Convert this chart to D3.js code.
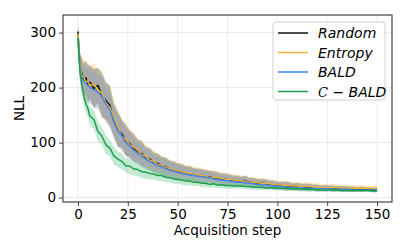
<!DOCTYPE html>
<html>
<head>
<meta charset="utf-8">
<script src="https://cdnjs.cloudflare.com/ajax/libs/d3/7.8.5/d3.min.js"></script>
<style>
  html, body { margin: 0; padding: 0; background: #fff; }
  svg { display: block; font-family: 'DejaVu Sans', sans-serif; }
</style>
</head>
<body>
<div class="chart"></div>
<script>
'use strict';

var steps = [0, 1, 2, 3, 4, 5, 6, 8, 10, 12, 14, 16, 18, 20, 22, 24, 26, 28, 30, 32, 34, 36, 38, 40,
  42, 44, 46, 48, 50, 52, 54, 56, 58, 60, 62, 64, 66, 68, 70, 72, 74, 76, 78, 80, 82, 84, 86, 88,
  90, 92, 94, 96, 98, 100, 102, 104, 106, 108, 110, 112, 114, 116, 118, 120, 122, 124, 126, 128,
  130, 132, 134, 136, 138, 140, 142, 144, 146, 148, 150];

var randomMean = [302, 238, 226, 214, 218, 206, 210, 198, 204, 186, 176, 168, 140, 124, 116, 104, 98,
  90, 84, 80, 73, 70, 64, 62, 58, 56, 52, 50, 48, 46, 44, 43, 42, 40, 40, 38, 38, 36, 35, 34, 33, 32,
  31, 30, 29, 30, 28, 27, 26, 26, 25, 24, 23, 22, 22, 21, 21, 20, 20, 19, 19, 18, 18, 18, 17, 17, 17,
  16, 16, 16, 16, 15, 15, 15, 15, 15, 15, 14, 14];
var randomSpread = [14, 24, 28, 30, 31, 34, 30, 36, 32, 40, 34, 36, 30, 32, 26, 28, 24, 25, 21, 23,
  19, 20, 18, 18, 16, 17, 15, 16, 14, 15, 13, 14, 12, 13, 12, 12, 11, 12, 11, 10, 11, 10, 9, 10, 9,
  10, 8, 9, 8, 8, 9, 7, 8, 7, 7, 8, 7, 6, 7, 6, 6, 7, 6, 6, 5, 6, 5, 6, 5, 5, 5, 5, 5, 4, 5, 4, 4, 4, 4];

var entropyMean = [298, 242, 222, 218, 210, 212, 204, 206, 196, 190, 172, 164, 146, 128, 112, 106, 96,
  92, 86, 78, 75, 68, 66, 60, 59, 55, 53, 50, 49, 47, 45, 44, 42, 41, 40, 39, 37, 37, 36, 35, 33, 33,
  32, 31, 30, 29, 28, 28, 27, 26, 25, 25, 24, 23, 23, 22, 22, 21, 21, 20, 20, 20, 19, 19, 19, 18, 18,
  18, 18, 17, 17, 17, 17, 17, 17, 17, 16, 17, 17];
var entropySpread = [16, 26, 30, 32, 34, 36, 34, 38, 36, 42, 36, 38, 32, 34, 28, 30, 26, 27, 23, 24,
  21, 22, 19, 20, 18, 18, 16, 17, 15, 16, 14, 15, 14, 14, 13, 13, 12, 13, 12, 11, 12, 11, 10, 11, 10,
  10, 9, 10, 9, 9, 10, 8, 9, 8, 8, 9, 8, 7, 8, 7, 7, 8, 7, 7, 6, 7, 6, 7, 6, 6, 6, 6, 6, 5, 6, 5, 5, 5, 5];

var baldMean = [290, 232, 216, 212, 208, 204, 200, 196, 192, 184, 170, 160, 138, 122, 112, 100, 94,
  86, 80, 76, 70, 66, 62, 58, 56, 53, 50, 48, 46, 44, 43, 41, 40, 39, 38, 37, 36, 34, 33, 32, 31, 30,
  29, 28, 28, 27, 26, 25, 24, 23, 23, 22, 21, 20, 20, 19, 19, 18, 18, 18, 17, 17, 17, 16, 16, 16, 16,
  15, 15, 15, 15, 15, 14, 14, 14, 14, 14, 14, 14];
var baldSpread = [14, 22, 26, 28, 28, 30, 28, 32, 30, 34, 30, 32, 28, 28, 24, 25, 22, 22, 20, 20, 18,
  18, 16, 16, 15, 15, 14, 14, 13, 13, 12, 12, 11, 11, 11, 10, 10, 10, 9, 9, 9, 9, 8, 8, 8, 8, 7, 8, 7,
  7, 7, 7, 6, 6, 6, 6, 6, 6, 5, 5, 5, 5, 5, 5, 5, 5, 4, 4, 4, 4, 4, 4, 4, 4, 4, 4, 4, 4, 4];

var cbaldMean = [290, 230, 204, 184, 170, 162, 148, 142, 120, 112, 96, 90, 76, 70, 66, 58, 57, 52, 51,
  47, 46, 44, 43, 40, 40, 37, 36, 34, 33, 32, 30, 30, 28, 28, 26, 26, 24, 25, 23, 23, 22, 22, 21, 21,
  21, 20, 20, 19, 19, 19, 18, 18, 18, 17, 17, 17, 16, 16, 16, 15, 15, 15, 15, 14, 14, 14, 14, 14, 14,
  13, 13, 13, 13, 13, 13, 13, 13, 12, 12];
var cbaldSpread = [10, 14, 16, 16, 17, 16, 18, 17, 18, 16, 17, 15, 16, 14, 15, 13, 14, 12, 12, 11, 12,
  11, 10, 10, 10, 9, 9, 9, 8, 8, 8, 8, 7, 7, 7, 7, 6, 6, 6, 6, 6, 6, 5, 5, 5, 5, 5, 5, 5, 5, 4, 4, 4,
  4, 4, 4, 4, 4, 4, 4, 4, 4, 4, 4, 3, 3, 3, 3, 3, 3, 3, 3, 3, 3, 3, 3, 3, 3, 3];

var xTicks = [0, 25, 50, 75, 100, 125, 150];
var yTicks = [0, 100, 200, 300];

var series = [
  {name: 'Random',  mean: randomMean,  spread: randomSpread,  line: '#111111', band: '#8c8c8c', bandOpacity: 0.6},
  {name: 'Entropy', mean: entropyMean, spread: entropySpread, line: '#f3b233', band: '#fbd58a', bandOpacity: 0.55},
  {name: 'BALD',    mean: baldMean,    spread: baldSpread,    line: '#3f86ef', band: '#a9c6f7', bandOpacity: 0.55},
  {name: 'CBALD',   mean: cbaldMean,   spread: cbaldSpread,   line: '#1aa04a', band: '#7fd0a0', bandOpacity: 0.45}
];

var margin = {top: 15, right: 15, bottom: 50, left: 63};
var W = 407, H = 252;
var width = W - margin.left - margin.right,
    height = H - margin.top - margin.bottom;

var svg = d3.select('.chart').append('svg')
    .attr('width', W)
    .attr('height', H);

var g = svg.append('g')
    .attr('transform', 'translate(' + margin.left + ',' + margin.top + ')');

var x = d3.scaleLinear().domain([-7.5, 157.5]).range([0, width]);
var y = d3.scaleLinear().domain([-8, 332]).range([height, 0]);

// grid
g.append('g').selectAll('line.gx')
    .data(xTicks).enter().append('line')
    .attr('x1', function(d) { return x(d); })
    .attr('x2', function(d) { return x(d); })
    .attr('y1', 0).attr('y2', height)
    .style('stroke', '#ebebeb').style('stroke-width', 1);
g.append('g').selectAll('line.gy')
    .data(yTicks).enter().append('line')
    .attr('y1', function(d) { return y(d); })
    .attr('y2', function(d) { return y(d); })
    .attr('x1', 0).attr('x2', width)
    .style('stroke', '#ebebeb').style('stroke-width', 1);

var area = function(s) {
  return d3.area()
    .x(function(d, i) { return x(steps[i]); })
    .y0(function(d, i) { return y(s.mean[i] - s.spread[i]); })
    .y1(function(d, i) { return y(s.mean[i] + s.spread[i]); });
};
var line = function(s) {
  return d3.line()
    .x(function(d, i) { return x(steps[i]); })
    .y(function(d) { return y(d); });
};

// bands: entropy, bald under the random one, c-bald last
[1, 2, 0, 3].forEach(function(k) {
  var s = series[k];
  g.append('path')
    .datum(s.mean)
    .attr('d', area(s))
    .style('fill', s.band)
    .style('fill-opacity', s.bandOpacity)
    .style('stroke', 'none');
});

series.forEach(function(s) {
  g.append('path')
    .datum(s.mean)
    .attr('d', line(s))
    .style('fill', 'none')
    .style('stroke', s.line)
    .style('stroke-width', 1.5)
    .style('stroke-linejoin', 'round');
});

// frame
g.append('rect')
    .attr('width', width).attr('height', height)
    .style('fill', 'none').style('stroke', '#444').style('stroke-width', 1.2);

var xAxis = g.append('g')
    .attr('transform', 'translate(0,' + height + ')')
    .call(d3.axisBottom(x).tickValues(xTicks).tickSize(4).tickPadding(3));
var yAxis = g.append('g')
    .call(d3.axisLeft(y).tickValues(yTicks).tickSize(4).tickPadding(3));

[xAxis, yAxis].forEach(function(a) {
  a.select('.domain').remove();
  a.selectAll('line').style('stroke', '#444').style('stroke-width', 1);
  a.selectAll('text')
    .style('font-family', "'DejaVu Sans', sans-serif")
    .style('font-size', '13.5px')
    .style('fill', '#000');
});

g.append('text')
    .attr('x', width / 2).attr('y', height + 33)
    .attr('text-anchor', 'middle')
    .style('font-size', '13.5px')
    .text('Acquisition step');

svg.append('text')
    .attr('transform', 'translate(24,' + (margin.top + height / 2) + ') rotate(-90)')
    .attr('text-anchor', 'middle')
    .style('font-size', '13.5px')
    .text('NLL');

// legend
var legend = svg.append('g').attr('transform', 'translate(273,22)');
legend.append('rect')
    .attr('width', 112).attr('height', 78)
    .attr('rx', 3).attr('ry', 3)
    .style('fill', '#fff').style('fill-opacity', 0.85)
    .style('stroke', '#d0d0d0').style('stroke-width', 1);

var entries = legend.selectAll('g.entry')
    .data(series).enter().append('g')
    .attr('transform', function(d, i) { return 'translate(0,' + (11 + i * 19.5) + ')'; });

entries.append('line')
    .attr('x1', 5).attr('x2', 35)
    .style('stroke', function(d) { return d.line; })
    .style('stroke-width', 1.5);

entries.append('text')
    .attr('x', 45).attr('y', 5)
    .style('font-size', '14px')
    .style('font-style', 'italic')
    .each(function(d) {
      var t = d3.select(this);
      if (d.name === 'CBALD') {
        t.append('tspan')
          .style('font-family', "'DejaVu Serif', serif")
          .style('font-size', '13px')
          .text('C');
        t.append('tspan').text(' \u2212 BALD');
      } else {
        t.text(d.name);
      }
    });
</script>
</body>
</html>
